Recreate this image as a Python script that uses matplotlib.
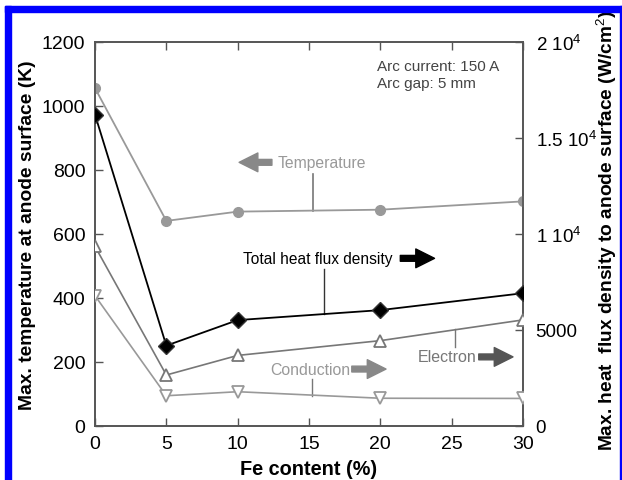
import matplotlib
matplotlib.use("Agg")
import matplotlib.pyplot as plt
from matplotlib.patches import Rectangle

plt.rcParams['font.family'] = ['Liberation Sans', 'DejaVu Sans']
plt.rcParams['mathtext.fontset'] = 'custom'
plt.rcParams['mathtext.rm'] = 'Liberation Sans'
plt.rcParams['mathtext.it'] = 'Liberation Sans:italic'
plt.rcParams['mathtext.bf'] = 'Liberation Sans:bold'

# ---- data ----
fe_content = [0, 5, 10, 20, 30]
temperature = [1055, 640, 669, 675, 701]          # K (left axis)
total_flux = [16200, 4170, 5500, 6020, 6900]      # W/cm^2 (right axis)
electron_flux = [9340, 2640, 3660, 4430, 5510]
conduction_flux = [6770, 1560, 1770, 1430, 1420]

left_ticks = [0, 200, 400, 600, 800, 1000, 1200]
right_ticks = [0, 5000, 10000, 15000, 20000]
right_ticklabels = ['0', '5000', '1 10$^4$', '1.5 10$^4$', '2 10$^4$']
x_ticks = [0, 5, 10, 15, 20, 25, 30]

W, H = 622, 481
fig = plt.figure(figsize=(W / 100, H / 100), dpi=100)
ax = fig.add_axes([95 / W, 1 - 426.7 / H, 428 / W, 384 / H])
ax2 = ax.twinx()

spine_col = '#555555'
for a in (ax, ax2):
    for s in a.spines.values():
        s.set_color(spine_col)
        s.set_linewidth(1.2)

ax.set_xlim(0, 30)
ax.set_ylim(0, 1200)
ax2.set_ylim(0, 20000)
ax.set_xticks(x_ticks)
ax.set_yticks(left_ticks)
ax2.set_yticks(right_ticks)
ax2.set_yticklabels(right_ticklabels)

ax.tick_params(axis='both', direction='in', length=6, width=1, color=spine_col,
               labelsize=14, top=True, pad=7)
ax.tick_params(axis='x', pad=7)
ax2.tick_params(axis='y', direction='in', length=6, width=1, color=spine_col,
                labelsize=13.5, pad=9)

# series
ax.plot(fe_content, temperature, '-o', color='#999999', lw=1.3, ms=7,
        mfc='#999999', mec='#999999', zorder=3)
ax2.plot(fe_content, total_flux, '-D', color='black', lw=1.3, ms=8,
         mfc='black', mec='#333333', zorder=4)
ax2.plot(fe_content, electron_flux, '-^', color='#777777', lw=1.2, ms=8,
         mfc='white', mec='#777777', mew=1.3, zorder=3)
ax2.plot(fe_content, conduction_flux, '-v', color='#999999', lw=1.2, ms=8,
         mfc='white', mec='#999999', mew=1.3, zorder=3)

ax.set_xlabel('Fe content (%)', fontsize=14.3, fontweight='bold', labelpad=5)
ax.set_ylabel('Max. temperature at anode surface (K)', fontsize=13.9,
              fontweight='bold', labelpad=4)
fig.text(607 / W, 1 - 231 / H,
         'Max. heat  flux density to anode surface (W/cm$^2$)',
         rotation=90, fontsize=13.8, fontweight='bold', ha='center', va='center')

# annotations (left-axis data coordinates)
def arrow(x0, x1, y, col):
    ax.annotate('', xy=(x1, y), xytext=(x0, y),
                arrowprops=dict(arrowstyle='simple,head_length=0.9,head_width=0.9,tail_width=0.28',
                                color=col, mutation_scale=15, shrinkA=0, shrinkB=0))

ax.text(12.8, 823, 'Temperature', color='#999999', fontsize=11.3, va='center', ha='left')
arrow(12.4, 10.1, 823, '#888888')
ax.plot([15.3, 15.3], [670, 788], color='#777777', lw=1.2)

ax.text(10.4, 523, 'Total heat flux density', color='black', fontsize=11.2,
        va='center', ha='left')
arrow(21.4, 23.8, 523, 'black')
ax.plot([16.05, 16.05], [350, 490], color='#333333', lw=1.0)

ax.text(12.3, 177, 'Conduction', color='#999999', fontsize=11.4, va='center', ha='left')
arrow(18.0, 20.4, 177, '#888888')
ax.plot([15.2, 15.2], [92, 146], color='#777777', lw=1.0)

ax.text(22.6, 215, 'Electron', color='#777777', fontsize=11.5, va='center', ha='left')
arrow(26.9, 29.3, 215, '#555555')
ax.plot([25.2, 25.2], [245, 302], color='#777777', lw=1.0)

ax.text(19.8, 1145, 'Arc current: 150 A\nArc gap: 5 mm', color='#444444',
        fontsize=11, va='top', ha='left', linespacing=1.25)

# blue border
fig.patches.append(Rectangle((5 / W, 0), 5.5 / W, 1 - 7 / H, transform=fig.transFigure,
                             color='#0000ff', zorder=10))
fig.patches.append(Rectangle((5 / W, 1 - 13 / H), 617 / W, 6 / H, transform=fig.transFigure,
                             color='#0000ff', zorder=10))
fig.patches.append(Rectangle((619.5 / W, 0), 2.5 / W, 1 - 7 / H, transform=fig.transFigure,
                             color='#0000ff', zorder=10))

fig.savefig('out.png', dpi=100)
